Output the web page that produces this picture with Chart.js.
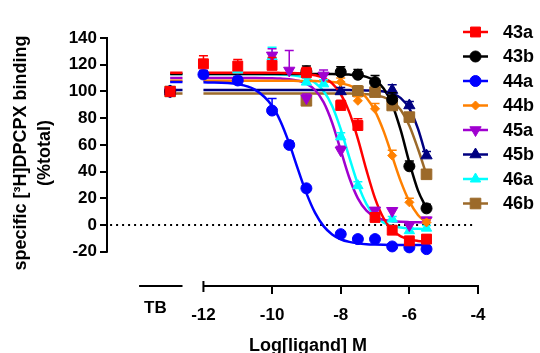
<!DOCTYPE html>
<html>
<head>
<meta charset="utf-8">
<script src="https://cdn.jsdelivr.net/npm/chart.js@4.4.1/dist/chart.umd.min.js"></script>
<style>
  html, body { margin: 0; padding: 0; background: #fff; }
</style>
</head>
<body>
<canvas id="chart" width="540" height="353"></canvas>
<script>
'use strict';

// x position of the TB (total binding) points and the TB label
const TB_X = -12.97;
const TB_LABEL_X = -13.4;

// tick labels
const X_TICKS = [TB_LABEL_X, -12, -10, -8, -6, -4];
const Y_TICKS = [-20, 0, 20, 40, 60, 80, 100, 120, 140];

// fitted curves (null = break between TB and -12)
const FIT_X = [-12.97, -12.61, -12.3, -12, -11, -10.5, -10, -9.75, -9.5, -9.25, -9, -8.75, -8.5,
  -8.25, -8, -7.75, -7.5, -7.25, -7, -6.75, -6.5, -6.25, -6, -5.75, -5.5];
const FIT_43A = [114, 114, null, 114, 114, 114, 114, 113.9, 113.8, 113.6, 113.1, 112.1, 110.1,
  106, 98.1, 84.5, 64.5, 41.1, 20, 5.1, -3.8, -8.5, -10.8, -11.9, -12.5];
const FIT_43B = [113, 113, null, 113, 113, 113, 113, 113, 113, 113, 113, 113, 113,
  113, 112.8, 112.6, 112.1, 110.9, 108.1, 102.2, 90.3, 70.8, 46.8, 26, 12.6];
const FIT_44A = [107, 107, null, 106.9, 105.4, 101.4, 89.3, 77.4, 61.1, 42.1, 23.9, 9.3, -0.8,
  -7, -10.6, -12.6, -13.7, -14.3, -14.6, -14.8, -14.9, -15, -15, -15, -15];
const FIT_44B = [108, 108, null, 108, 108, 108, 108, 108, 108, 107.9, 107.9, 107.8, 107.5,
  107.1, 106.2, 104.5, 101.3, 95.3, 85.3, 70.3, 51.5, 32.7, 17.7, 7.6, 1.7];
const FIT_45A = [110, 110, null, 110, 110, 110, 109.8, 109.6, 109.2, 108.1, 105.9, 101.1, 92,
  76.6, 56, 35.4, 20, 10.8, 6.1, 3.9, 2.9, 2.4, 2.2, 2.1, 2];
const FIT_45B = [101, 101, null, 101, 101, 101, 101, 101, 101, 101, 101, 101, 101,
  101, 101, 101, 100.9, 100.8, 100.6, 100, 98.5, 95, 87.2, 72.2, 50.5];
const FIT_46A = [113, 113, null, 113, 113, 113, 112.8, 112.7, 112.3, 111.5, 109.9, 106.6, 100.3,
  89.1, 71.8, 50.7, 30.6, 15.7, 6.7, 1.8, -0.7, -1.9, -2.5, -2.8, -2.9];
const FIT_46B = [98.5, 98.5, null, 98.5, 98.5, 98.5, 98.5, 98.5, 98.5, 98.5, 98.5, 98.5, 98.5,
  98.5, 98.5, 98.5, 98.3, 97.9, 97.2, 95.7, 92.5, 86.1, 74.4, 57.1, 37.6];

// measured points (log dose, % binding, error)
const X_43A = [TB_X, -12, -11, -10, -9, -8, -7.5, -7, -6.5, -6, -5.5];
const Y_43A = [100, 120.7, 119, 119.5, 114, 89.5, 74.5, 5.7, -3.8, -11.8, -10.5];
const E_43A = [0, 6, 5, 6, 4, 4, 5, 3, 3, 2, 3];

const X_43B = [TB_X, -9, -8, -7.5, -7, -6.5, -6, -5.5];
const Y_43B = [100, 115, 114.5, 112.5, 107, 94, 44, 12.5];
const E_43B = [0, 4, 4, 4, 5, 5, 4, 3];

const X_44A = [TB_X, -12, -11, -10, -9.5, -9, -8, -7.5, -7, -6.5, -6, -5.5];
const Y_44A = [100, 112.7, 108.2, 85.7, 60, 27.5, -6.8, -10.5, -10.5, -16, -16.7, -18];
const E_44A = [0, 3, 3, 9, 3, 2, 2, 2, 2, 2, 2, 2];

const X_44B = [TB_X, -8, -7.5, -7, -6.5, -6, -5.5];
const Y_44B = [100, 107, 93, 87, 52, 17, 2];
const E_44B = [0, 3, 3, 4, 4, 3, 2];

const X_45A = [TB_X, -10, -9.5, -9, -8.5, -8, -7, -6.5, -6, -5.5];
const Y_45A = [100, 127, 115.7, 95, 112, 56, 11, 10.7, 0, 3.7];
const E_45A = [0, 5, 15, 3, 4, 3, 2, 2, 2, 2];

const X_45B = [TB_X, -8, -6.5, -6, -5.5];
const Y_45B = [100, 100, 101, 89.5, 52];
const E_45B = [0, 3, 4, 3, 3];

const X_46A = [TB_X, -11, -10, -9, -8.5, -8, -7.5, -7, -6.5, -6, -5.5];
const Y_46A = [100, 116, 126, 107, 105.7, 66, 29.5, 6, 4.5, -4.2, -2.3];
const E_46A = [0, 5, 7, 3, 3, 3, 3, 2, 2, 2, 2];

const X_46B = [TB_X, -9, -7.5, -7, -6.5, -6, -5.5];
const Y_46B = [100, 93, 100.2, 99.5, 89.5, 80.8, 38];
const E_46B = [0, 3, 4, 4, 3, 3, 3];

// dotted zero line
const ZERO_X = [-14.72, -4.17];
const ZERO_Y = [0, 0];

const SERIES = [
  { label: '43a', color: '#ff0000', style: 'rect', radius: 7, rot: 0, x: X_43A, y: Y_43A, err: E_43A, fit: FIT_43A },
  { label: '43b', color: '#000000', style: 'circle', radius: 5.5, rot: 0, x: X_43B, y: Y_43B, err: E_43B, fit: FIT_43B },
  { label: '44a', color: '#0000ff', style: 'circle', radius: 5.5, rot: 0, x: X_44A, y: Y_44A, err: E_44A, fit: FIT_44A },
  { label: '44b', color: '#ff8000', style: 'rectRot', radius: 4.5, rot: 0, x: X_44B, y: Y_44B, err: E_44B, fit: FIT_44B },
  { label: '45a', color: '#a000d0', style: 'triangle', radius: 6.5, rot: 180, x: X_45A, y: Y_45A, err: E_45A, fit: FIT_45A },
  { label: '45b', color: '#000080', style: 'triangle', radius: 6.5, rot: 0, x: X_45B, y: Y_45B, err: E_45B, fit: FIT_45B },
  { label: '46a', color: '#00ffff', style: 'triangle', radius: 6, rot: 0, x: X_46A, y: Y_46A, err: E_46A, fit: FIT_46A },
  { label: '46b', color: '#9c6a2a', style: 'rect', radius: 7.5, rot: 0, x: X_46B, y: Y_46B, err: E_46B, fit: FIT_46B },
];

const FONT = "'Liberation Sans', Arial, sans-serif";

// build datasets: markers on top, fitted curves below, zero line at the bottom
const datasets = [];
SERIES.forEach((s) => {
  datasets.push({
    label: s.label,
    data: s.x.map((x, j) => ({ x: x, y: s.y[j] })),
    errors: s.err,
    showLine: false,
    pointStyle: s.style,
    pointRadius: s.radius,
    pointRotation: s.rot,
    pointBackgroundColor: s.color,
    pointBorderColor: s.color,
    pointBorderWidth: 1,
    borderColor: s.color,
    clip: false,
    order: 0,
  });
});
SERIES.forEach((s) => {
  datasets.push({
    label: s.label + ' fit',
    data: FIT_X.map((x, j) => ({ x: x, y: s.fit[j] })),
    borderColor: s.color,
    borderWidth: 2.5,
    pointRadius: 0,
    cubicInterpolationMode: 'monotone',
    spanGaps: false,
    fill: false,
    order: 1,
  });
});
datasets.push({
  label: 'zero',
  data: ZERO_X.map((x, j) => ({ x: x, y: ZERO_Y[j] })),
  borderColor: '#000',
  borderWidth: 2,
  borderDash: [2, 4],
  pointRadius: 0,
  order: 2,
});

// error bars (upward), drawn just before each marker set
const errorBars = {
  id: 'errorBars',
  beforeDatasetDraw(chart, args) {
    const ds = chart.data.datasets[args.index];
    if (!ds.errors) return;
    const { ctx, scales: { x, y } } = chart;
    ctx.save();
    ctx.strokeStyle = ds.borderColor;
    ctx.lineWidth = 1.5;
    ds.data.forEach((p, j) => {
      const e = ds.errors[j];
      if (!e) return;
      const px = x.getPixelForValue(p.x);
      const py = y.getPixelForValue(p.y);
      const pe = y.getPixelForValue(p.y + e);
      ctx.beginPath();
      ctx.moveTo(px, py);
      ctx.lineTo(px, pe);
      ctx.moveTo(px - 4.5, pe);
      ctx.lineTo(px + 4.5, pe);
      ctx.stroke();
    });
    ctx.restore();
  },
};

// broken axes: y from -20 to 140, x from -12 to -4 plus a TB stub
const axes = {
  id: 'axes',
  beforeDatasetsDraw(chart) {
    const { ctx, chartArea, scales: { x, y } } = chart;
    ctx.save();
    ctx.strokeStyle = '#000';
    ctx.lineWidth = 2;
    ctx.beginPath();
    ctx.moveTo(chartArea.left, y.getPixelForValue(140) - 1);
    ctx.lineTo(chartArea.left, y.getPixelForValue(-20) + 1);
    const b = chartArea.bottom;
    ctx.moveTo(x.getPixelForValue(-12), b);
    ctx.lineTo(x.getPixelForValue(-4) + 1, b);
    ctx.moveTo(x.getPixelForValue(-12), b - 5);
    ctx.lineTo(x.getPixelForValue(-12), b + 6);
    ctx.moveTo(x.getPixelForValue(-13.875), b);
    ctx.lineTo(x.getPixelForValue(-12.61), b);
    ctx.stroke();
    ctx.restore();
  },
};

// axis titles and legend
const titles = {
  id: 'titles',
  afterDraw(chart) {
    const { ctx } = chart;
    ctx.save();
    ctx.fillStyle = '#000';
    ctx.font = 'bold 18px ' + FONT;
    ctx.textAlign = 'center';
    ctx.textBaseline = 'alphabetic';
    ctx.fillText('Log[ligand] M', 308, 351);

    ctx.translate(0, 153);
    ctx.rotate(-Math.PI / 2);
    ctx.textBaseline = 'middle';
    ctx.fillText('specific [³H]DPCPX binding', 0, 21);
    ctx.fillText('(%total)', 0, 45);
    ctx.restore();

    ctx.save();
    ctx.font = 'bold 18px ' + FONT;
    ctx.textAlign = 'left';
    ctx.textBaseline = 'middle';
    SERIES.forEach((s, i) => {
      const ry = 32 + i * 24.5;
      ctx.strokeStyle = s.color;
      ctx.fillStyle = s.color;
      ctx.lineWidth = 2.5;
      ctx.beginPath();
      ctx.moveTo(463, ry);
      ctx.lineTo(488, ry);
      ctx.stroke();
      ctx.lineWidth = 1;
      Chart.helpers.drawPoint(ctx, {
        pointStyle: s.style, radius: s.radius, rotation: s.rot, borderWidth: 1,
      }, 475.5, ry);
      ctx.fillStyle = '#000';
      ctx.fillText(s.label, 503, ry + 1);
    });
    ctx.restore();
  },
};

Chart.defaults.font.family = FONT;
Chart.defaults.color = '#000';

new Chart(document.getElementById('chart'), {
  type: 'line',
  data: { datasets: datasets },
  plugins: [errorBars, axes, titles],
  options: {
    responsive: false,
    animation: false,
    events: [],
    layout: { padding: { left: 0, right: 62, top: 38, bottom: 0 } },
    plugins: {
      legend: { display: false },
      tooltip: { enabled: false },
    },
    scales: {
      x: {
        type: 'linear',
        min: -14.81,
        max: -4,
        afterFit: (s) => { s.height = 67; },
        afterBuildTicks: (s) => { s.ticks = X_TICKS.map((v) => ({ value: v })); },
        border: { display: false },
        grid: {
          drawOnChartArea: false,
          drawTicks: true,
          tickLength: 8,
          lineWidth: 2,
          color: (c) => (c.tick && c.tick.value < -11.5 ? 'rgba(0,0,0,0)' : '#000'),
        },
        ticks: {
          autoSkip: false,
          maxRotation: 0,
          padding: 11,
          color: '#000',
          font: (c) => ({
            size: 17,
            weight: 'bold',
            lineHeight: c.tick && c.tick.value === TB_LABEL_X ? 0.35 : 1.2,
          }),
          callback: (v) => (v === TB_LABEL_X ? 'TB' : String(v)),
        },
      },
      y: {
        type: 'linear',
        min: -45.6,
        max: 140,
        afterFit: (s) => { s.width = 107; },
        afterBuildTicks: (s) => { s.ticks = Y_TICKS.map((v) => ({ value: v })); },
        border: { display: false },
        grid: {
          drawOnChartArea: false,
          drawTicks: true,
          tickLength: 7,
          lineWidth: 2,
          color: '#000',
        },
        ticks: {
          padding: 3,
          color: '#000',
          font: { size: 17, weight: 'bold' },
        },
      },
    },
  },
});
</script>
</body>
</html>
